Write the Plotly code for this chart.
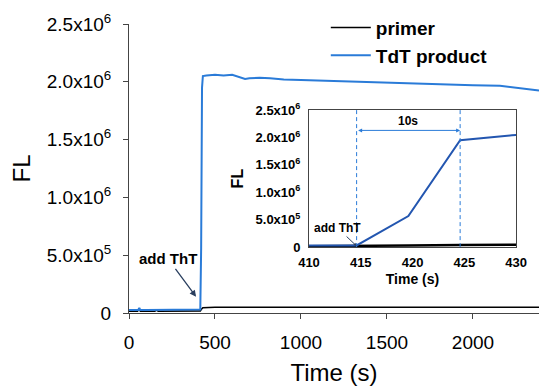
import plotly.graph_objects as go

# ---- data ----
t_main = [0, 30, 55, 60, 65, 100, 150, 160, 165, 200, 300, 400, 409.6, 414.6, 419.6, 424.6, 429.6,
          450, 500, 550, 600, 650, 675, 700, 760, 820, 900, 1000, 1100, 1200, 1300, 1400, 1500,
          1600, 1700, 1800, 1925, 2000, 2157, 2250, 2384]
tdt_main = [2.5e4, 2.4e4, 2.6e4, 4.5e4, 2.6e4, 2.5e4, 2.5e4, 3.0e4, 2.5e4, 2.5e4, 2.6e4, 2.8e4, 3.0e4, 3.0e4,
            5.66e5, 1.95e6, 2.05e6, 2.055e6, 2.06e6, 2.055e6, 2.06e6, 2.04e6, 2.025e6, 2.03e6, 2.035e6,
            2.03e6, 2.02e6, 2.015e6, 2.01e6, 2.005e6, 2.0e6, 2.0e6, 1.99e6, 1.985e6, 1.98e6, 1.975e6,
            1.97e6, 1.97e6, 1.965e6, 1.95e6, 1.925e6]
t_primer = [0, 50, 58, 66, 150, 160, 170, 400, 409.6, 414.6, 419.6, 424.6, 429.6, 500, 1000, 1500, 2000, 2384]
primer_main = [1.5e4, 1.5e4, 4.0e4, 1.5e4, 1.5e4, 2.5e4, 1.5e4, 1.6e4, 1.8e4, 1.8e4, 3.0e4, 4.0e4, 4.5e4,
               5.0e4, 5.0e4, 5.0e4, 5.0e4, 5.0e4]

t_inset = [409.6, 414.6, 419.6, 424.6, 429.6, 430]
tdt_inset = [3.0e4, 3.0e4, 5.66e5, 1.95e6, 2.04e6, 2.045e6]
primer_inset = [1.5e4, 1.8e4, 3.0e4, 4.0e4, 4.5e4, 4.5e4]

main_yticks = [0, 5e5, 1e6, 1.5e6, 2e6, 2.5e6]
main_yticktext = ["0", "5.0x10<sup>5</sup>", "1.0x10<sup>6</sup>", "1.5x10<sup>6</sup>",
                  "2.0x10<sup>6</sup>", "2.5x10<sup>6</sup>"]
main_xticks = [0, 500, 1000, 1500, 2000]
inset_xticks = [410, 415, 420, 425, 430]
mark_start, mark_end = 414.6, 424.6

BLUE = "#2a7bd8"
BLUE_IN = "#2356b0"
FONT = "Liberation Sans, Arial, sans-serif"

fig = go.Figure()
fig.add_trace(go.Scatter(x=t_primer, y=primer_main, mode="lines", name="primer",
                         line=dict(color="black", width=1.6)))
fig.add_trace(go.Scatter(x=t_main, y=tdt_main, mode="lines", name="TdT product",
                         line=dict(color=BLUE, width=2)))
fig.add_trace(go.Scatter(x=t_inset, y=primer_inset, mode="lines", showlegend=False,
                         line=dict(color="black", width=2.5), xaxis="x2", yaxis="y2"))
fig.add_trace(go.Scatter(x=t_inset, y=tdt_inset, mode="lines", showlegend=False,
                         line=dict(color=BLUE_IN, width=2), xaxis="x2", yaxis="y2"))

fig.update_layout(
    width=539, height=390,
    margin=dict(l=129, r=0, t=24, b=77, autoexpand=False),
    plot_bgcolor="white", paper_bgcolor="white",
    font=dict(family=FONT, color="black"),
    showlegend=True,
    legend=dict(x=0.48, y=1.053, xanchor="left", yanchor="top",
                font=dict(size=19, family=FONT, weight="bold"),
                bgcolor="rgba(0,0,0,0)", tracegroupgap=0, itemwidth=40),
    xaxis=dict(range=[0, 2384], tickvals=main_xticks, showgrid=False, zeroline=False,
               automargin=False,
               showline=True, linecolor="#444", linewidth=1, ticks="outside", ticklen=5,
               tickcolor="#444", tickfont=dict(size=19), ticklabelstandoff=7,
               title=dict(text="Time (s)", font=dict(size=24), standoff=12)),
    yaxis=dict(range=[0, 2.5e6], tickvals=main_yticks, ticktext=main_yticktext,
               automargin=False,
               showgrid=False, zeroline=False, showline=True, linecolor="#444", linewidth=1,
               ticks="outside", ticklen=5, tickcolor="#444", tickfont=dict(size=19),
               ticklabelstandoff=8,
               title=dict(text="FL", font=dict(size=24), standoff=9)),
    xaxis2=dict(domain=[0.439, 0.944], anchor="y2", range=[410, 430], tickvals=inset_xticks,
                automargin=False,
                showgrid=False, zeroline=False, showline=True, mirror=True, linecolor="#444",
                linewidth=1, ticks="", tickfont=dict(size=13, weight="bold"),
                ticklabelstandoff=3,
                title=dict(text="Time (s)", font=dict(size=14, weight="bold"), standoff=5)),
    yaxis2=dict(domain=[0.228, 0.702], anchor="x2", range=[0, 2.5e6], tickvals=main_yticks,
                automargin=False,
                ticktext=main_yticktext, showgrid=False, zeroline=False, showline=True,
                mirror=True, linecolor="#444", linewidth=1, ticks="",
                tickfont=dict(size=13, weight="bold"), ticklabelstandoff=5,
                title=dict(text="FL", font=dict(size=16, weight="bold"), standoff=7)),
)

# dashed vertical markers in inset
for xv in (mark_start, mark_end):
    fig.add_shape(type="line", xref="x2", yref="y2", x0=xv, x1=xv, y0=0, y1=2.5e6,
                  line=dict(color=BLUE, width=1, dash="4px,3px"))

# 10s double arrow
fig.add_annotation(x=mark_end, y=2.13e6, xref="x2", yref="y2", ax=mark_start, ay=2.13e6,
                   axref="x2", ayref="y2", showarrow=True, arrowhead=2, startarrowhead=2,
                   arrowside="end+start", arrowsize=0.8, arrowwidth=1, arrowcolor=BLUE, text="")
fig.add_annotation(x=(mark_start + mark_end) / 2, y=2.13e6, xref="x2", yref="y2", text="<b>10s</b>",
                   showarrow=False, yshift=9, font=dict(size=12))

# add ThT annotations
fig.add_annotation(x=390, y=1.4e5, xref="x", yref="y", text="<b>add ThT</b>", showarrow=True,
                   arrowhead=2, arrowsize=1, arrowwidth=1.3, ax=-28, ay=-38,
                   font=dict(size=15))
fig.add_annotation(x=mark_start, y=2e4, xref="x2", yref="y2", text="<b>add ThT</b>", showarrow=True,
                   arrowhead=2, arrowsize=0.6, arrowwidth=1, ax=-19, ay=-18,
                   font=dict(size=12))

fig.write_html("out.html", config={"displayModeBar": False},
               post_script="document.body.style.margin='0';document.body.style.overflow='hidden';")
